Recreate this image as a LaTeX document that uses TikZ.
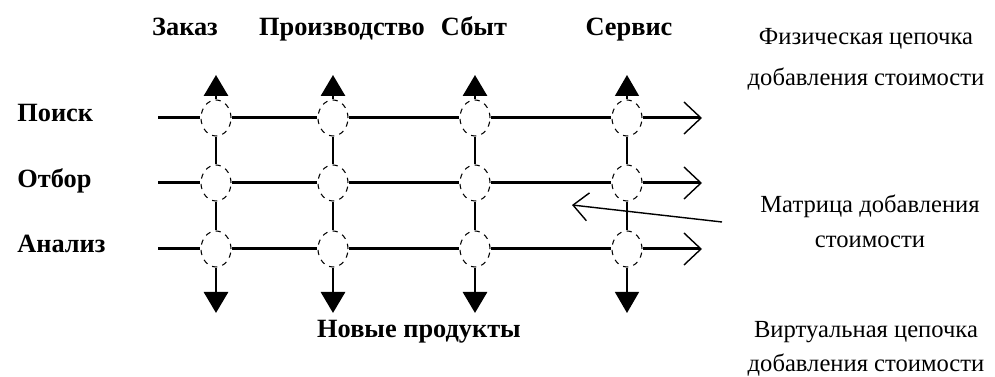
\documentclass[tikz,border=0pt]{standalone}
\usepackage{fontspec}
\setmainfont{Liberation Serif}
\usetikzlibrary{shapes.geometric,arrows.meta}

\tikzset{
  knot/.style   = {draw, ellipse, dashed, line width=0.6pt, fill=white,
                   minimum width=0.6cm, minimum height=0.72cm, inner sep=0pt},
  chain/.style  = {line width=1.7pt},
  link/.style   = {line width=0.8pt},
  flow/.style   = {-{Straight Barb[length=0.34cm, width=0.64cm, line width=0.8pt]}},
  outup/.style  = {-{Triangle[length=0.42cm, width=0.48cm]}},
  head/.style   = {anchor=base, inner sep=0pt, font=\fontsize{15}{18}\selectfont\bfseries},
  note/.style   = {anchor=base, inner sep=0pt, font=\fontsize{14}{17}\selectfont}
}

\begin{document}
\begin{tikzpicture}[x=0.02cm, y=-0.02cm]
  \useasboundingbox (0,0) rectangle (995,377);

  % column and row titles
  \node[head] at (185, 36)  (zakaz)  {Заказ};
  \node[head] at (342, 36)  (proizv) {Производство};
  \node[head] at (474, 36)  (sbyt)   {Сбыт};
  \node[head] at (629, 36)  (servis) {Сервис};
  \node[head, anchor=base west] at (17, 122) (poisk)  {Поиск};
  \node[head, anchor=base west] at (17, 188) (otbor)  {Отбор};
  \node[head, anchor=base west] at (17, 253) (analiz) {Анализ};
  \node[head] at (419, 338) (novye) {Новые продукты};

  % notes on the right
  \node[note] at (866, 45)  (fiz1)  {Физическая цепочка};
  \node[note] at (866, 86)  (fiz2)  {добавления стоимости};
  \node[note] at (870, 213) (matr1) {Матрица добавления};
  \node[note] at (870, 248) (matr2) {стоимости};
  \node[note] at (866, 338) (virt1) {Виртуальная цепочка};
  \node[note] at (866, 372) (virt2) {добавления стоимости};

  % knots of the matrix
  \node[knot] at (216, 118) (a1) {};
  \node[knot] at (333, 118) (b1) {};
  \node[knot] at (475, 118) (c1) {};
  \node[knot] at (627, 118) (d1) {};
  \node[knot] at (216, 183) (a2) {};
  \node[knot] at (333, 183) (b2) {};
  \node[knot] at (475, 183) (c2) {};
  \node[knot] at (627, 183) (d2) {};
  \node[knot] at (216, 249) (a3) {};
  \node[knot] at (333, 249) (b3) {};
  \node[knot] at (475, 249) (c3) {};
  \node[knot] at (627, 249) (d3) {};

  % ends of the lines
  \coordinate (s1) at (158, 118);
  \coordinate (s2) at (158, 183);
  \coordinate (s3) at (158, 249);
  \coordinate (e1) at (702, 118);
  \coordinate (e2) at (702, 183);
  \coordinate (e3) at (702, 249);
  \coordinate (ua) at (216, 75);
  \coordinate (ub) at (333, 75);
  \coordinate (uc) at (475, 75);
  \coordinate (ud) at (627, 75);
  \coordinate (da) at (216, 313);
  \coordinate (db) at (333, 313);
  \coordinate (dc) at (475, 313);
  \coordinate (dd) at (627, 313);
  \coordinate (pfrom) at (722, 222);
  \coordinate (pto)   at (572, 205);

  % physical chains
  \draw[chain] (s1) -- (a1) -- (b1) -- (c1) -- (d1);
  \draw[chain] (s2) -- (a2) -- (b2) -- (c2) -- (d2);
  \draw[chain] (s3) -- (a3) -- (b3) -- (c3) -- (d3);
  \draw[chain, flow] (d1) -- (e1);
  \draw[chain, flow] (d2) -- (e2);
  \draw[chain, flow] (d3) -- (e3);

  % virtual chains
  \draw[chain] (a1) -- (a2) -- (a3);
  \draw[chain] (b1) -- (b2) -- (b3);
  \draw[chain] (c1) -- (c2) -- (c3);
  \draw[link]  (d1) -- (d2) -- (d3);
  \draw[chain, outup] (a1) -- (ua);
  \draw[chain, outup] (b1) -- (ub);
  \draw[chain, outup] (c1) -- (uc);
  \draw[link, outup]  (d1) -- (ud);
  \draw[chain, outup] (a3) -- (da);
  \draw[chain, outup] (b3) -- (db);
  \draw[chain, outup] (c3) -- (dc);
  \draw[link, outup]  (d3) -- (dd);

  % pointer to the matrix
  \draw[link, -{Straight Barb[length=0.3cm, width=0.56cm, line width=0.8pt]}] (pfrom) -- (pto);
\end{tikzpicture}
\end{document}
